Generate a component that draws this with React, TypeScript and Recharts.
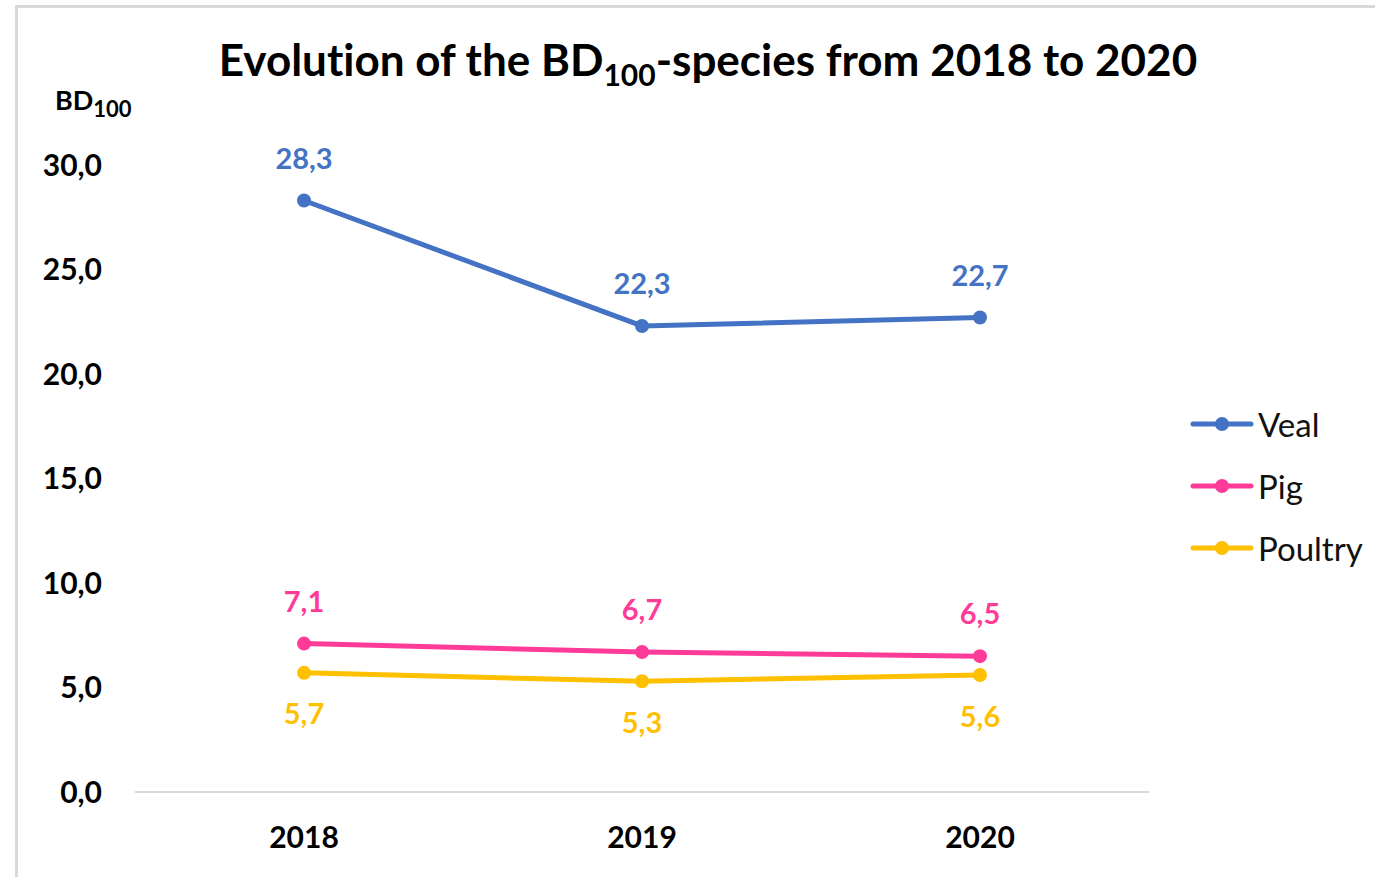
import React from 'react';
import { LineChart, Line, XAxis, YAxis, Legend, LabelList } from 'recharts';

const years = ['2018', '2019', '2020'];
const veal = [28.3, 22.3, 22.7];
const pig = [7.1, 6.7, 6.5];
const poultry = [5.7, 5.3, 5.6];
const yTicks = [0, 5, 10, 15, 20, 25, 30];

const series = [
    { key: 'Veal', values: veal, color: '#4472C4', labelPos: 'top' as const },
    { key: 'Pig', values: pig, color: '#FF3B9A', labelPos: 'top' as const },
    { key: 'Poultry', values: poultry, color: '#FFC000', labelPos: 'bottom' as const },
];

const data = years.map((year, i) => ({
    year,
    Veal: veal[i],
    Pig: pig[i],
    Poultry: poultry[i],
}));

const FONT = 'Lato, "Open Sans", sans-serif';
const fmt = (v: any) => Number(v).toFixed(1).replace('.', ',');

function LegendContent(props: any) {
    const items = props.payload ?? [];
    // keep series order (recharts sorts legend items by name)
    const ordered = series
        .map((s) => items.find((it: any) => it.value === s.key || it.dataKey === s.key))
        .filter(Boolean);
    return (
        <div style={{ fontFamily: FONT }}>
            {ordered.map((it: any) => (
                <div key={it.value} style={{ display: 'flex', alignItems: 'center', height: 62 }}>
                    <svg width={64} height={16} style={{ marginRight: 4 }}>
                        <line x1={3} y1={8} x2={61} y2={8} stroke={it.color} strokeWidth={5} strokeLinecap="round" />
                        <circle cx={32} cy={8} r={7} fill={it.color} />
                    </svg>
                    <span style={{ fontSize: 33, color: '#111' }}>{it.value}</span>
                </div>
            ))}
        </div>
    );
}

export default function App() {
    return (
        <div style={{
            position: 'absolute', left: 0, top: 0, width: 1375, height: 877, overflow: 'hidden',
            background: '#fff', fontVariantLigatures: 'none',
        }}>
            <div style={{
                position: 'absolute', left: 15, top: 5, width: 1400, height: 900,
                borderTop: '3px solid #d9d9d9', borderLeft: '3px solid #d9d9d9',
            }} />
            <div style={{
                position: 'absolute', left: 708, top: 37, transform: 'translateX(-50%)',
                fontFamily: FONT, fontWeight: 700, fontSize: 44, lineHeight: 1, whiteSpace: 'nowrap', color: '#000',
            }}>
                Evolution of the BD<sub style={{ fontSize: 30, verticalAlign: -10 }}>100</sub>-species from 2018 to 2020
            </div>
            <div style={{
                position: 'absolute', left: 55, top: 86, fontFamily: FONT, fontWeight: 700,
                fontSize: 27, lineHeight: 1, whiteSpace: 'nowrap', color: '#000',
            }}>
                BD<sub style={{ fontSize: 22, verticalAlign: -7 }}>100</sub>
            </div>
            <LineChart
                width={1375}
                height={877}
                data={data}
                margin={{ top: 165, right: 226, bottom: 25, left: 0 }}
                style={{ position: 'absolute', left: 0, top: 0 }}
            >
                <XAxis
                    dataKey="year"
                    scale="band"
                    height={60}
                    tickSize={0}
                    tickMargin={35}
                    axisLine={{ stroke: '#d9d9d9', strokeWidth: 2 }}
                    tick={{ fill: '#000', fontSize: 30, fontWeight: 700, fontFamily: FONT }}
                />
                <YAxis
                    domain={[0, 30]}
                    ticks={yTicks}
                    width={135}
                    tickSize={0}
                    tickMargin={33}
                    axisLine={false}
                    tickFormatter={fmt}
                    tick={{ fill: '#000', fontSize: 30, fontWeight: 700, fontFamily: FONT }}
                />
                <Legend
                    layout="vertical"
                    align="center"
                    verticalAlign="middle"
                    wrapperStyle={{ left: 1190, top: 393, width: 185 }}
                    content={<LegendContent />}
                />
                {series.map((s) => (
                    <Line
                        key={s.key}
                        dataKey={s.key}
                        stroke={s.color}
                        strokeWidth={5}
                        dot={{ r: 7, fill: s.color, stroke: s.color, strokeWidth: 0 }}
                        activeDot={false}
                        isAnimationActive={false}
                    >
                        <LabelList
                            dataKey={s.key}
                            position={s.labelPos}
                            offset={s.labelPos === 'top' ? 32 : 31}
                            formatter={fmt}
                            fill={s.color}
                            fontSize={29}
                            fontWeight={700}
                            fontFamily={FONT}
                        />
                    </Line>
                ))}
            </LineChart>
        </div>
    );
}
